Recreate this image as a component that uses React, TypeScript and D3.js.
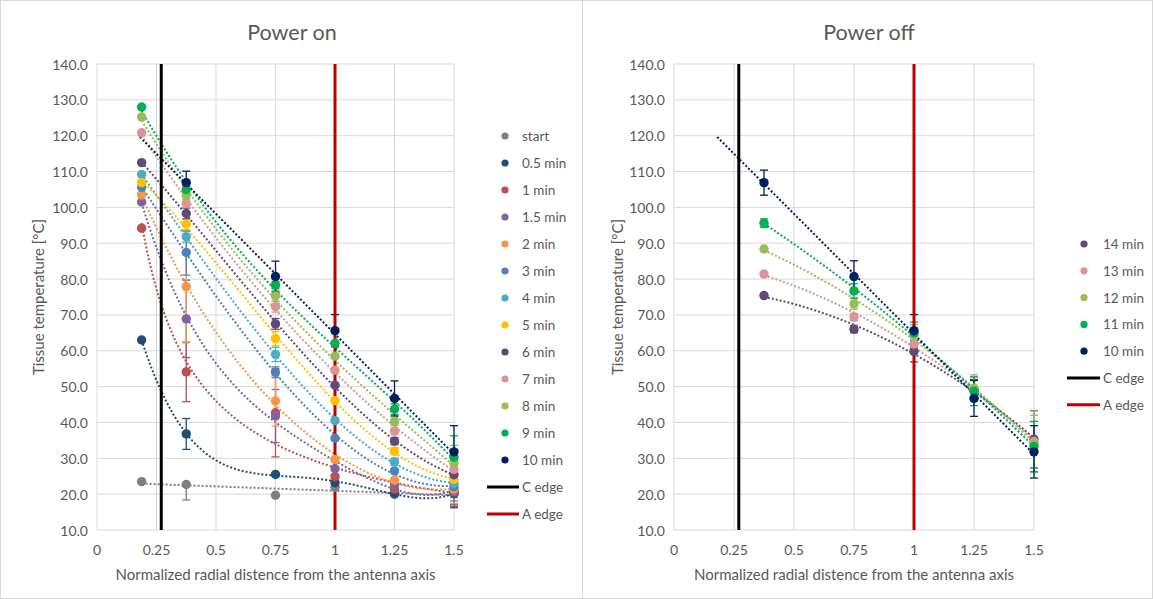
import React from 'react';
import * as d3 from 'd3';

const W = 1153;
const H = 599;
const FONT = 'Lato, "Open Sans", sans-serif';
const TEXT = '#595959';
const GRID = '#D9D9D9';

// ---------- shared axis data ----------
const yTickValues = [10, 20, 30, 40, 50, 60, 70, 80, 90, 100, 110, 120, 130, 140];
const xTickValues = [0, 0.25, 0.5, 0.75, 1, 1.25, 1.5];
const xTickLabels = ['0', '0.25', '0.5', '0.75', '1', '1.25', '1.5'];
const cEdge = 0.27;
const aEdge = 1.0;

// ---------- Power on ----------
const leftX = [0.1875, 0.375, 0.75, 1, 1.25, 1.5];
const leftNames = ['start', '0.5 min', '1 min', '1.5 min', '2 min', '3 min', '4 min', '5 min', '6 min', '7 min', '8 min', '9 min', '10 min'];
const leftColors = ['#7F7F7F', '#1F4E79', '#C0504D', '#8064A2', '#F79646', '#4F81BD', '#4BACC6', '#FFC000', '#604A7B', '#D99694', '#9BBB59', '#00B050', '#002060'];
const onStart = [23.5, 22.7, 19.7, 21.9, 19.9, 20.2];
const on05 = [63.0, 36.8, 25.5, 23.2, 20.2, 20.2];
const on1 = [94.2, 54.1, 42.7, 24.9, 21.4, 20.6];
const on15 = [101.5, 68.9, 41.8, 27.1, 22.6, 21.0];
const on2 = [103.5, 77.9, 46.0, 29.7, 23.9, 21.4];
const on3 = [105.6, 87.4, 54.0, 35.6, 26.5, 22.1];
const on4 = [109.2, 91.8, 59.0, 40.5, 29.0, 23.0];
const on5 = [106.9, 95.3, 63.4, 46.1, 32.0, 24.1];
const on6 = [112.5, 98.3, 67.5, 50.4, 34.8, 25.4];
const on7 = [120.8, 101.1, 72.3, 54.6, 37.6, 26.9];
const on8 = [125.2, 103.4, 75.3, 58.5, 40.2, 28.6];
const on9 = [128.0, 105.0, 78.3, 62.1, 43.7, 30.3];
const on10 = [null, 106.9, 80.7, 65.6, 46.7, 31.8];
const leftValues = [onStart, on05, on1, on15, on2, on3, on4, on5, on6, on7, on8, on9, on10];
// error bars: number = symmetric, [minus, plus]
const errStart = [0, [4.3, 0], 0, 0, 0, 3];
const err05 = [0, 4.3, 0, 0, 0, 4];
const err1 = [0, 8.3, 12.3, 0, 0, 4];
const err15 = [0, 10.8, 7.4, 0, 0, 4];
const err2 = [0, 15.7, 7.0, 0, 0, 4];
const err3 = [0, 6.3, 1.5, 0, 0, 4];
const err4 = [0, 1.5, 2.0, 0, 1, 4];
const err5 = [0, 1.5, 2.0, 0, 1, 4];
const err6 = [0, 1.5, 1.5, 0, 1, 4];
const err7 = [0, 1.0, 1.5, 0, 1, 5];
const err8 = [0, 1.0, 1.5, 0, 1, 5];
const err9 = [0, 1.0, 1.0, 0, 1.5, 6];
const err10 = [0, 3.2, 4.3, 4.5, 4.9, 7.3];
const leftErrors = [errStart, err05, err1, err15, err2, err3, err4, err5, err6, err7, err8, err9, err10];
// trendline type per series: 'linear', 'power', or 'polyN'
const leftTrendType = ['linear', 'poly4', 'power', 'poly4', 'poly4', 'poly3', 'poly3', 'poly3', 'poly3', 'poly3', 'poly3', 'poly3', 'linear'];
const leftTrendBackward = [0, 0, 0, 0, 0, 0, 0, 0, 0, 0, 0, 0, 0.195];

// ---------- Power off ----------
const rightX = [0.375, 0.75, 1, 1.25, 1.5];
const rightNames = ['14 min', '13 min', '12 min', '11 min', '10 min'];
const rightColors = ['#604A7B', '#D99694', '#9BBB59', '#00B050', '#002060'];
const off14 = [75.4, 66.0, 59.9, 49.0, 35.3];
const off13 = [81.4, 69.4, 61.9, 49.3, 34.7];
const off12 = [88.4, 73.1, 64.3, 49.6, 34.0];
const off11 = [95.6, 76.7, 65.0, 48.7, 33.3];
const off10 = [106.9, 80.7, 65.6, 46.7, 31.8];
const rightValues = [off14, off13, off12, off11, off10];
const offErr14 = [0.5, 1.0, 3, 3.0, 8];
const offErr13 = [0.5, 1.0, 3, 3.5, 8.5];
const offErr12 = [0.5, 1.5, 3, 3.7, 8];
const offErr11 = [1.2, 2.0, 3, 4.0, 7];
const offErr10 = [3.5, 4.4, 4.5, 5.0, 7.3];
const rightErrors = [offErr14, offErr13, offErr12, offErr11, offErr10];
const rightTrendType = ['poly2', 'poly2', 'poly2', 'poly2', 'linear'];
const rightTrendBackward = [0, 0, 0, 0, 0.195];

// ---------- helpers ----------
function polyfit(xs: number[], ys: number[], order: number): number[] {
  const n = order + 1;
  const A: number[][] = [];
  for (let i = 0; i < n; i++) {
    const row: number[] = [];
    for (let j = 0; j < n; j++) {
      let s = 0;
      for (const x of xs) s += Math.pow(x, i + j);
      row.push(s);
    }
    let r = 0;
    xs.forEach((x, k) => (r += Math.pow(x, i) * ys[k]));
    row.push(r);
    A.push(row);
  }
  for (let c = 0; c < n; c++) {
    let p = c;
    for (let r = c + 1; r < n; r++) if (Math.abs(A[r][c]) > Math.abs(A[p][c])) p = r;
    [A[c], A[p]] = [A[p], A[c]];
    for (let r = 0; r < n; r++) {
      if (r === c) continue;
      const f = A[r][c] / A[c][c];
      for (let k = c; k <= n; k++) A[r][k] -= f * A[c][k];
    }
  }
  return A.map((row, i) => row[n] / row[i]);
}

function trendFn(type: string, xs: number[], ys: number[]): (x: number) => number {
  if (type === 'power') {
    const c = polyfit(xs.map(Math.log), ys.map(Math.log), 1);
    return (x) => Math.exp(c[0]) * Math.pow(x, c[1]);
  }
  const order = type === 'linear' ? 1 : parseInt(type.replace('poly', ''), 10);
  const c = polyfit(xs, ys, order);
  return (x) => c.reduce((s, ci, i) => s + ci * Math.pow(x, i), 0);
}

type Err = number | number[];

interface PanelProps {
  title: string;
  titleX: number;
  plot: { l: number; r: number; t: number; b: number };
  xs: number[];
  names: string[];
  colors: string[];
  values: (number | null)[][];
  errors: Err[][];
  trendType: string[];
  trendBack: number[];
  legend: { mx: number; tx: number; lx0: number; lx1: number; y0: number; step: number };
  yLabelX: number;
  id: string;
}

function Panel(p: PanelProps) {
  const { l, r, t, b } = p.plot;
  const x = d3.scaleLinear().domain([0, 1.5]).range([l, r]);
  const y = d3.scaleLinear().domain([10, 140]).range([b, t]);
  const line = d3.line<[number, number]>().x((d) => x(d[0])).y((d) => y(d[1]));
  const cx = (l + r) / 2;
  const cy = (t + b) / 2;

  const trends = p.values.map((vals, si) => {
    const pts = p.xs.map((xv, i) => [xv, vals[i]]).filter((d) => d[1] != null) as [number, number][];
    const f = trendFn(p.trendType[si], pts.map((d) => d[0]), pts.map((d) => d[1]));
    const x0 = pts[0][0] - p.trendBack[si];
    const x1 = pts[pts.length - 1][0];
    const samples: [number, number][] = [];
    const N = 150;
    for (let k = 0; k <= N; k++) {
      const xv = x0 + ((x1 - x0) * k) / N;
      samples.push([xv, f(xv)]);
    }
    return line(samples) || '';
  });

  const n = p.names.length;
  return (
    <g fontFamily={FONT}>
      <defs>
        <clipPath id={p.id + '-clip'}>
          <rect x={l} y={t} width={r - l} height={b - t} />
        </clipPath>
      </defs>
      <text x={p.titleX} y={32} textAnchor="middle" dominantBaseline="central" fontSize={21.5} fill={TEXT}>
        {p.title}
      </text>
      {yTickValues.map((v) => (
        <line key={'gy' + v} x1={l} x2={r} y1={y(v)} y2={y(v)} stroke={GRID} strokeWidth={1} />
      ))}
      {xTickValues.map((v) => (
        <line key={'gx' + v} x1={x(v)} x2={x(v)} y1={t} y2={b} stroke={GRID} strokeWidth={1} />
      ))}
      {yTickValues.map((v) => (
        <text key={'ty' + v} x={l - 9} y={y(v)} textAnchor="end" dominantBaseline="central" fontSize={14} fill={TEXT}>
          {v.toFixed(1)}
        </text>
      ))}
      {xTickValues.map((v, i) => (
        <text key={'tx' + v} x={x(v)} y={549} textAnchor="middle" dominantBaseline="central" fontSize={14} fill={TEXT}>
          {xTickLabels[i]}
        </text>
      ))}
      <text x={cx} y={574} textAnchor="middle" dominantBaseline="central" fontSize={15} fill={TEXT}>
        Normalized radial distence from the antenna axis
      </text>
      <text
        transform={`translate(${p.yLabelX},${cy}) rotate(-90)`}
        textAnchor="middle"
        dominantBaseline="central"
        fontSize={15}
        fill={TEXT}
      >
        Tissue temperature [°C]
      </text>
      <g clipPath={`url(#${p.id}-clip)`}>
        {trends.map((d, si) => (
          <path key={'tr' + si} d={d} fill="none" stroke={p.colors[si]} strokeWidth={2} strokeDasharray="2 2" />
        ))}
      </g>
      {p.values.map((vals, si) =>
        vals.map((v, i) => {
          if (v == null) return null;
          const e = p.errors[si][i];
          const lo = Array.isArray(e) ? e[0] : e;
          const hi = Array.isArray(e) ? e[1] : e;
          if (!lo && !hi) return null;
          const px = x(p.xs[i]);
          const c = p.colors[si];
          return (
            <g key={`e${si}-${i}`} stroke={c} strokeWidth={1.3}>
              <line x1={px} x2={px} y1={y(v - lo)} y2={y(v + hi)} />
              {lo ? <line x1={px - 4} x2={px + 4} y1={y(v - lo)} y2={y(v - lo)} /> : null}
              {hi ? <line x1={px - 4} x2={px + 4} y1={y(v + hi)} y2={y(v + hi)} /> : null}
            </g>
          );
        })
      )}
      <line x1={x(cEdge)} x2={x(cEdge)} y1={t} y2={b} stroke="#000000" strokeWidth={3} />
      <line x1={x(aEdge)} x2={x(aEdge)} y1={t} y2={b} stroke="#C00000" strokeWidth={3} />
      {p.values.map((vals, si) =>
        vals.map((v, i) =>
          v == null ? null : <circle key={`m${si}-${i}`} cx={x(p.xs[i])} cy={y(v)} r={4.7} fill={p.colors[si]} />
        )
      )}
      {p.names.map((nm, i) => (
        <g key={'lg' + i}>
          <circle cx={p.legend.mx} cy={p.legend.y0 + i * p.legend.step} r={3.6} fill={p.colors[i]} />
          <text x={p.legend.tx} y={p.legend.y0 + i * p.legend.step} dominantBaseline="central" fontSize={13.5} fill={TEXT}>
            {nm}
          </text>
        </g>
      ))}
      {[
        ['C edge', '#000000'],
        ['A edge', '#C00000'],
      ].map(([nm, c], k) => {
        const yy = p.legend.y0 + (n + k) * p.legend.step;
        return (
          <g key={'le' + k}>
            <line x1={p.legend.lx0} x2={p.legend.lx1} y1={yy} y2={yy} stroke={c} strokeWidth={3} />
            <text x={p.legend.lx1 + 3} y={yy} dominantBaseline="central" fontSize={13.5} fill={TEXT}>
              {nm}
            </text>
          </g>
        );
      })}
    </g>
  );
}

export default function App() {
  return (
    <svg width={W} height={H} style={{ position: 'absolute', left: 0, top: 0, background: '#fff' }}>
      <rect x={0} y={0} width={W} height={H} fill="#fff" />
      <rect x={0.5} y={0.5} width={582} height={H - 1} fill="none" stroke={GRID} />
      <rect x={582.5} y={0.5} width={W - 583} height={H - 1} fill="none" stroke={GRID} />
      <Panel
        id="on"
        title="Power on"
        titleX={292}
        plot={{ l: 97, r: 454, t: 64, b: 530 }}
        xs={leftX}
        names={leftNames}
        colors={leftColors}
        values={leftValues}
        errors={leftErrors as Err[][]}
        trendType={leftTrendType}
        trendBack={leftTrendBackward}
        legend={{ mx: 505, tx: 522, lx0: 487, lx1: 519, y0: 136, step: 27 }}
        yLabelX={38}
      />
      <Panel
        id="off"
        title="Power off"
        titleX={869}
        plot={{ l: 674, r: 1034, t: 64, b: 530 }}
        xs={rightX}
        names={rightNames}
        colors={rightColors}
        values={rightValues}
        errors={rightErrors}
        trendType={rightTrendType}
        trendBack={rightTrendBackward}
        legend={{ mx: 1084, tx: 1103, lx0: 1067, lx1: 1100, y0: 244, step: 26.8 }}
        yLabelX={617}
      />
    </svg>
  );
}
